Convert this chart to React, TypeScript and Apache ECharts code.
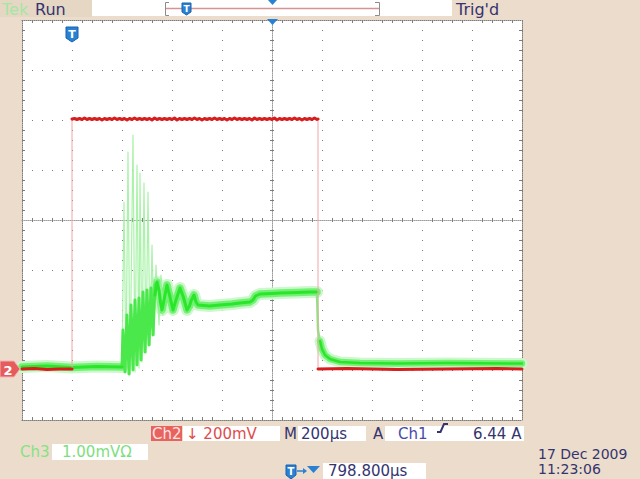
import React, { useEffect, useRef } from 'react';
import * as echarts from 'echarts';

// ---- Axes (time in µs from left edge of screen, amplitude in divisions) ----
const TIME_MIN = 0;
const TIME_MAX = 2000;
const TIME_DIV = 200;
const DIV_MIN = -4;
const DIV_MAX = 4;

// ---- Ch2 (red) ----
const ch2Low1: number[][] = [[0, -2.98], [50, -2.97], [100, -2.99], [150, -2.98], [200, -2.98]];
const ch2HighStart = 200;
const ch2HighStep = 10;
const ch2HighValues: number[] = [
  2.02, 2.03, 2.01, 2.03, 2.01, 2.04, 2.01, 2.03, 2.01, 2.03,
  2.01, 2.03, 2.0, 2.03, 2.01, 2.03, 2.01, 2.04, 2.01, 2.03,
  2.01, 2.03, 2.0, 2.03, 2.01, 2.04, 2.01, 2.03, 2.01, 2.03,
  2.01, 2.03, 2.0, 2.04, 2.01, 2.03, 2.01, 2.03, 2.01, 2.03,
  2.01, 2.04, 2.0, 2.03, 2.01, 2.03, 2.01, 2.03, 2.01, 2.04,
  2.01, 2.03, 2.0, 2.03, 2.01, 2.03, 2.01, 2.04, 2.01, 2.03,
  2.01, 2.03, 2.0, 2.03, 2.01, 2.04, 2.01, 2.03, 2.01, 2.03,
  2.01, 2.03, 2.0, 2.04, 2.01, 2.03, 2.01, 2.03, 2.01, 2.03,
  2.01, 2.04, 2.0, 2.03, 2.01, 2.03, 2.01, 2.03, 2.01, 2.04,
  2.01, 2.03, 2.0, 2.03, 2.01, 2.03, 2.01, 2.04, 2.01,
];
const ch2HighEnd: number[] = [1184, 2.02];
const ch2Low2: number[][] = [[1184, -2.98], [1300, -2.97], [1500, -2.99], [1700, -2.98], [1900, -2.97], [2000, -2.98]];
const ch2Edges: (number[] | string)[] = [[200, -2.98], [200, 2.02], '-', [1184, 2.02], [1184, -2.98]];

// ---- Ch3 (green) ----
const ch3Base: number[][] = [[0, -2.94], [100, -2.92], [200, -2.95], [300, -2.93], [400, -2.94]];
const ch3Ring: number[][] = [
  [400, -2.94], [404, -2.2], [412, -3.04], [420, -1.9], [428, -3.08], [436, -1.7], [444, -3.0],
  [452, -1.6], [460, -2.9], [468, -1.56], [476, -2.8], [484, -1.44], [492, -2.64], [500, -1.4],
  [508, -2.5], [516, -1.36], [524, -2.3], [532, -1.3], [540, -1.24],
];
const ch3Spikes: number[][] = [
  [400, -2.94], [408, 0.36], [416, -3.04], [424, 1.36], [432, -3.1], [444, 1.7], [452, -3.04],
  [460, 1.1], [468, -2.96], [472, 0.94], [480, -2.84], [488, 0.74], [496, -2.66], [504, 0.56],
  [512, -2.5], [520, -0.5], [528, -2.3], [536, -0.9], [548, -2.1], [556, -1.1], [564, -1.9],
];
const ch3Main: number[][] = [
  [532, -1.5], [540, -1.24], [548, -1.4], [554, -1.65], [560, -1.8], [568, -1.6], [580, -1.3],
  [590, -1.5], [604, -1.8], [616, -1.6], [632, -1.36], [646, -1.55], [660, -1.8], [670, -1.72],
  [676, -1.62], [688, -1.5], [696, -1.64], [704, -1.7], [750, -1.72], [792, -1.7], [840, -1.68],
  [872, -1.66], [912, -1.64], [924, -1.6], [934, -1.52], [952, -1.48], [1000, -1.47],
  [1032, -1.46], [1100, -1.45], [1150, -1.44], [1180, -1.44],
];
const ch3Fall: number[][] = [[1180, -1.44], [1184, -2.2], [1188, -2.34], [1192, -2.42]];
const ch3Tail: number[][] = [
  [1192, -2.42], [1200, -2.58], [1212, -2.7], [1232, -2.78], [1272, -2.84], [1352, -2.86],
  [1500, -2.87], [1700, -2.86], [2000, -2.87],
];

// ---- Texts ----
const topLeftTexts = { tek: 'Tek', run: 'Run', trig: "Trig'd" };
const ch2Label = 'Ch2';
const ch2Scale = '\u2193 200mV';
const timeLabel = 'M';
const timeScale = '200\u00b5s';
const trigLabel = 'A';
const trigSource = 'Ch1';
const trigLevel = '6.44 A';
const ch3Label = 'Ch3';
const ch3Scale = '1.00mV\u03a9';
const trigPos = '798.800\u00b5s';
const dateText = '17 Dec 2009';
const timeText = '11:23:06';

const FONT = '"DejaVu Sans", Verdana, sans-serif';
const NAVY = '#34346f';
const BLUE = '#2a80d2';
const DOT = '#7d7d7d';

function lineSeries(data: any[], color: string, width: number, opacity = 1, z = 2) {
  return {
    type: 'line',
    data,
    symbol: 'none',
    showSymbol: false,
    silent: true,
    animation: false,
    connectNulls: false,
    xAxisIndex: 0,
    yAxisIndex: 0,
    z,
    lineStyle: { color, width, opacity, cap: 'round', join: 'round' },
  };
}

function txt(x: number, y: number, text: string, fill: string, size = 15, align = 'left') {
  return {
    type: 'text',
    x,
    y,
    z: 10,
    style: { text, fill, font: `${size}px ${FONT}`, align, verticalAlign: 'middle' },
  };
}

function shield(x: number, y: number, w: number, h: number) {
  const tip = Math.round(h * 0.28);
  return [
    {
      type: 'polygon',
      z: 10,
      shape: { points: [[x, y], [x + w, y], [x + w, y + h - tip], [x + w / 2, y + h], [x, y + h - tip]] },
      style: { fill: BLUE, stroke: '#1763b0', lineWidth: 1 },
    },
    {
      type: 'text',
      x: x + w / 2,
      y: y + (h - tip) / 2 + 1.5,
      z: 11,
      style: { text: 'T', fill: '#ffffff', font: `bold ${Math.round(h * 0.72)}px ${FONT}`, align: 'center', verticalAlign: 'middle' },
    },
  ];
}

export default function App() {
  const ref = useRef<HTMLDivElement>(null);

  useEffect(() => {
    if (!ref.current) return;
    const chart = echarts.init(ref.current, undefined, { renderer: 'svg' });

    const ch2High: number[][] = ch2HighValues.map((v, i) => [ch2HighStart + i * ch2HighStep, v]);
    ch2High.push(ch2HighEnd);

    const minor = { show: true, splitNumber: 5, length: 3, lineStyle: { color: DOT, width: 1 } };
    const borderLine = { show: true, onZero: false, lineStyle: { color: DOT, width: 1, type: [1, 1] } };
    const centerLine = { show: true, onZero: false, lineStyle: { color: '#9a9a9a', width: 1, type: [1, 1] } };
    const noLine = { show: false, onZero: false };

    const xBase: any = {
      type: 'value',
      min: TIME_MIN,
      max: TIME_MAX,
      interval: TIME_DIV,
      axisLabel: { show: false },
      axisTick: { show: false, inside: true },
      splitLine: { show: false },
      minorTick: minor,
      axisLine: borderLine,
    };
    const yBase: any = {
      type: 'value',
      min: DIV_MIN,
      max: DIV_MAX,
      interval: 1,
      axisLabel: { show: false },
      axisTick: { show: false, inside: true },
      splitLine: { show: false },
      minorTick: minor,
      axisLine: borderLine,
    };
    const gridSplit = { show: true, lineStyle: { color: DOT, width: 1, type: [1, 9] } };
    const centerTick = { show: false, inside: false };
    const centerMinor = { ...minor, length: 2 };

    const graphic: any[] = [
      // top bar
      { type: 'rect', z: 5, shape: { x: 0, y: 0, width: 92, height: 17 }, style: { fill: '#e6d6c4' } },
      { type: 'rect', z: 5, shape: { x: 92, y: 0, width: 360, height: 16 }, style: { fill: '#ffffff' } },
      { type: 'line', z: 6, shape: { x1: 166, y1: 8.5, x2: 379, y2: 8.5 }, style: { stroke: '#d49494', lineWidth: 1.5 } },
      { type: 'polyline', z: 6, shape: { points: [[169, 2.5], [165.5, 2.5], [165.5, 15.5], [169, 15.5]] }, style: { stroke: '#8c8c8c', lineWidth: 1, fill: 'none' } },
      { type: 'polyline', z: 6, shape: { points: [[375, 2.5], [379.5, 2.5], [379.5, 15.5], [375, 15.5]] }, style: { stroke: '#8c8c8c', lineWidth: 1, fill: 'none' } },
      ...shield(182, 3, 9, 12),
      { type: 'polygon', z: 10, shape: { points: [[268, 0], [277, 0], [272.5, 5]] }, style: { fill: BLUE } },
      txt(2, 9, topLeftTexts.tek, '#a4e6a4', 16),
      txt(35, 9, topLeftTexts.run, NAVY, 16),
      txt(456, 9, topLeftTexts.trig, NAVY, 16),
      // markers on graticule
      { type: 'polygon', z: 10, shape: { points: [[267, 19], [278, 19], [272.5, 25]] }, style: { fill: BLUE } },
      ...shield(66, 27, 12, 15),
      {
        type: 'polygon',
        z: 10,
        shape: { points: [[0, 361], [14, 361], [20, 369], [14, 377], [0, 377]] },
        style: { fill: '#e65c5c', stroke: '#f4b0b0', lineWidth: 1 },
      },
      { type: 'text', x: 8, y: 370, z: 11, style: { text: '2', fill: '#ffffff', font: `bold 13px ${FONT}`, align: 'center', verticalAlign: 'middle' } },
      // bottom readouts
      { type: 'rect', z: 5, shape: { x: 151, y: 426, width: 31, height: 15 }, style: { fill: '#e8625e' } },
      txt(152, 434, ch2Label, '#fde4e4', 15),
      { type: 'rect', z: 5, shape: { x: 183, y: 426, width: 97, height: 15 }, style: { fill: '#ffffff' } },
      txt(186, 434, ch2Scale, '#e04c4c', 15),
      txt(284, 434, timeLabel, NAVY, 15),
      { type: 'rect', z: 5, shape: { x: 298, y: 426, width: 68, height: 15 }, style: { fill: '#ffffff' } },
      txt(301, 434, timeScale, NAVY, 15),
      txt(373, 434, trigLabel, NAVY, 15),
      { type: 'rect', z: 5, shape: { x: 385, y: 426, width: 139, height: 15 }, style: { fill: '#ffffff' } },
      txt(398, 434, trigSource, '#4a4aa6', 15),
      { type: 'polyline', z: 10, shape: { points: [[437, 432], [440.5, 432], [444, 424], [448, 424]] }, style: { stroke: NAVY, lineWidth: 2, fill: 'none' } },
      txt(473, 434, trigLevel, NAVY, 15),
      txt(20, 452, ch3Label, '#86e286', 15),
      { type: 'rect', z: 5, shape: { x: 52, y: 444, width: 96, height: 16 }, style: { fill: '#ffffff' } },
      txt(62, 452, ch3Scale, '#7ede7e', 15),
      ...shield(286, 465, 10, 14),
      { type: 'line', z: 10, shape: { x1: 297, y1: 471, x2: 304, y2: 471 }, style: { stroke: BLUE, lineWidth: 1.5 } },
      { type: 'polygon', z: 10, shape: { points: [[303, 468], [307, 471], [303, 474]] }, style: { fill: BLUE } },
      { type: 'polygon', z: 10, shape: { points: [[307, 466], [320, 466], [313.5, 473]] }, style: { fill: BLUE } },
      { type: 'rect', z: 5, shape: { x: 323, y: 463, width: 103, height: 16 }, style: { fill: '#ffffff' } },
      txt(328, 471, trigPos, NAVY, 15),
      txt(538, 454, dateText, NAVY, 14),
      txt(538, 469, timeText, NAVY, 14),
    ];

    chart.setOption({
      animation: false,
      backgroundColor: '#ecdccb',
      grid: {
        left: 22,
        top: 20,
        width: 500,
        height: 400,
        show: true,
        backgroundColor: '#ffffff',
        borderWidth: 0,
        containLabel: false,
        outerBoundsMode: 'none',
      },
      xAxis: [
        { ...xBase, position: 'bottom', splitLine: gridSplit },
        { ...xBase, position: 'top' },
        { ...xBase, position: 'bottom', offset: -200, axisTick: centerTick, minorTick: centerMinor, axisLine: centerLine },
        { ...xBase, position: 'top', offset: -200, axisTick: centerTick, minorTick: centerMinor, axisLine: noLine },
      ],
      yAxis: [
        { ...yBase, position: 'left', splitLine: gridSplit },
        { ...yBase, position: 'right' },
        { ...yBase, position: 'left', offset: -250, axisTick: centerTick, minorTick: centerMinor, axisLine: centerLine },
        { ...yBase, position: 'right', offset: -250, axisTick: centerTick, minorTick: centerMinor, axisLine: noLine },
      ],
      series: [
        // green halo
        lineSeries(ch3Base, '#cdf8cd', 12),
        lineSeries(ch3Main, '#cdf8cd', 12),
        lineSeries(ch3Tail, '#cdf8cd', 11),
        // green band
        lineSeries(ch3Base, '#74f074', 7.5),
        lineSeries(ch3Main, '#74f074', 7.5),
        lineSeries(ch3Tail, '#74f074', 6.5),
        // spikes and ringing
        lineSeries(ch3Spikes, '#9cf09c', 1.2, 0.85),
        lineSeries(ch3Ring, '#4ae84a', 3),
        lineSeries(ch3Fall, '#7cee7c', 2.5),
        // green core
        lineSeries(ch3Base, '#2ae62a', 3),
        lineSeries(ch3Main, '#2ae62a', 3),
        lineSeries(ch3Tail, '#2ae62a', 2.5),
        // red
        lineSeries(ch2Edges, '#f2a6a6', 1, 1, 3),
        lineSeries(ch2Low1, '#d61e1e', 3, 1, 4),
        lineSeries(ch2High, '#d61e1e', 3, 1, 4),
        lineSeries(ch2Low2, '#d61e1e', 3, 1, 4),
      ],
      graphic,
    });

    return () => chart.dispose();
  }, []);

  return <div ref={ref} style={{ position: 'fixed', left: 0, top: 0, width: 640, height: 479 }} />;
}
